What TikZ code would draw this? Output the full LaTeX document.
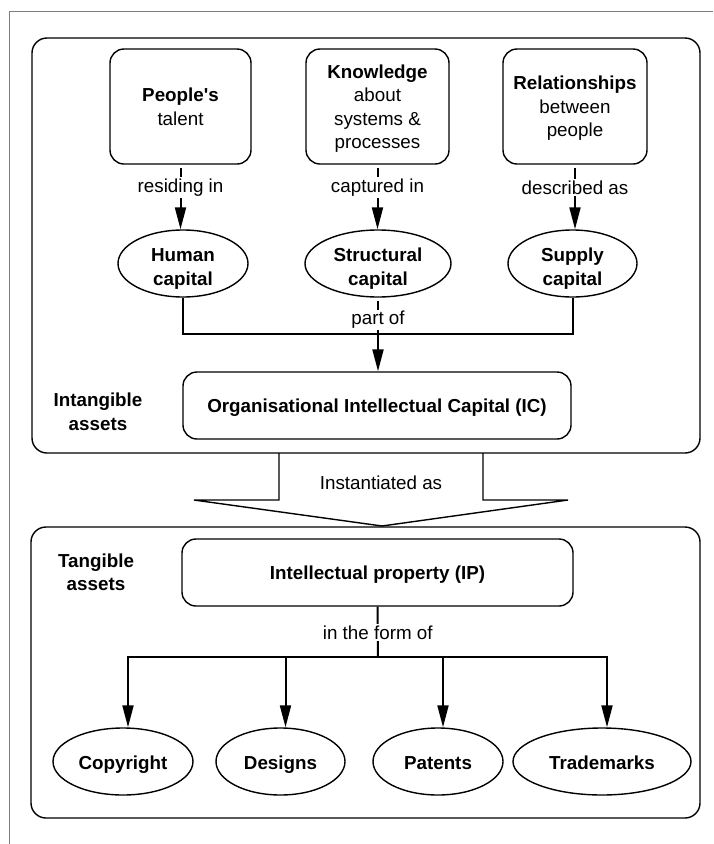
\documentclass[tikz,border=0pt]{standalone}
\usepackage{fontspec}
\setmainfont{Liberation Sans}
\usetikzlibrary{shapes.geometric,arrows.meta}
\tikzset{
  txt/.style={font=\fontsize{18.8}{23.5}\selectfont, align=center},
  box/.style={txt, draw, rounded corners=14pt, line width=1.4pt, inner sep=0pt, text depth=0pt},
  oval/.style={draw, ellipse, line width=1.4pt, inner sep=0pt, minimum height=67pt, align=center, text height=43pt, text depth=0pt, font=\fontsize{18.8}{23.5}\selectfont\bfseries},
  side/.style={align=center, font=\fontsize{18.8}{23.5}\selectfont\bfseries},
  lab/.style={txt, fill=white, inner sep=1.5pt},
  wire/.style={line width=2pt},
  link/.style={wire, -{Triangle[length=22pt,width=11pt]}},
  panel/.style={line width=1.4pt, rounded corners=15pt}
}
\begin{document}
\begin{tikzpicture}[x=1pt,y=-1pt]
\useasboundingbox (0,0) rectangle (713,844);
\draw[gray, line width=1pt] (9,844) -- (9,11) -- (713,11);
\draw[panel] (32,38) rectangle (700,453);
\draw[panel] (31,527) rectangle (700,818);

\node[box, minimum width=141pt, minimum height=115pt] (people) at (180.5,106.5) {\textbf{People\textquotesingle s}\\talent};
\node[box, minimum width=143pt, minimum height=115pt] (know) at (377.5,106.5) {\textbf{Knowledge}\\about\\systems \&\\processes};
\node[box, minimum width=144pt, minimum height=115pt] (rel) at (575,106.5) {\textbf{Relationships}\\between\\people};
\node[oval, minimum width=130pt] (human) at (183,263.5) {Human\\capital};
\node[oval, minimum width=146pt] (struct) at (378,263.5) {Structural\\capital};
\node[oval, minimum width=129pt] (supply) at (572.5,263.5) {Supply\\capital};
\foreach \a/\b/\t in {people/human/residing in, know/struct/captured in, rel/supply/described as}
\draw[link, shorten <=3pt] (\a.south) -- node[lab, pos=0.35] {\t} (\a.south |- \b.north);

\node[box, minimum width=388pt, minimum height=67pt] (ic) at (377,405.5) {\textbf{Organisational Intellectual Capital (IC)}};
\node[side] (intang) at (98,412) {Intangible\\assets};
\coordinate (join) at (378,334);
\draw[wire] (human.south) |- (join) -| (supply.south);
\draw[link, shorten <=3pt] (struct.south) -- node[lab, pos=0.3] {part of} (struct.south |- ic.north);

\coordinate (shaftl) at (279,453);
\coordinate (shaftr) at (483,453);
\coordinate (tip) at (382,526);
\draw[line width=1.4pt, line join=miter] (shaftl) -- (279,500) -- (194,500) -- (tip) -- (568,500) -- (483,500) -- (shaftr);
\node[txt] (inst) at (381,483) {Instantiated as};

\node[box, minimum width=391pt, minimum height=67pt] (ip) at (377.5,572.5) {\textbf{Intellectual property (IP)}};
\node[side] (tang) at (96,572.5) {Tangible\\assets};
\coordinate (fork) at (378,657);
\draw[wire] (ip.south) -- node[lab, pos=0.52] {in the form of} (fork);
\foreach \n/\x/\w/\t in {copy/123/140/Copyright, des/280.5/129/Designs, pat/438/130/Patents, tm/602/178/Trademarks}
\node[oval, text height=16pt, minimum width=\w pt] (\n) at (\x,761.5) {\t};
\foreach \n in {copy,des,pat,tm}
\draw[link] (fork) -| ([xshift=5pt]\n.north);
\end{tikzpicture}
\end{document}
